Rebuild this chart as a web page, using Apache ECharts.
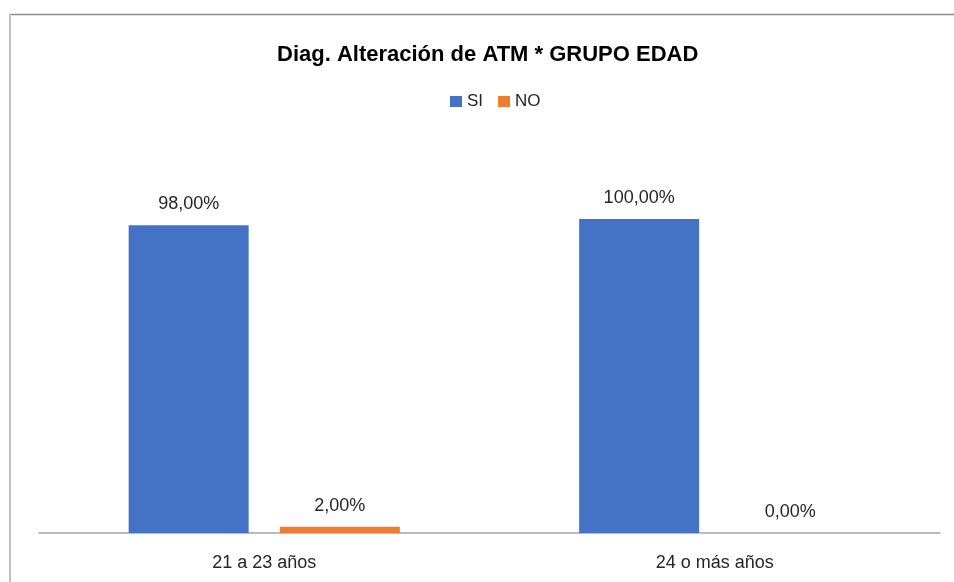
<!DOCTYPE html>
<html>
<head>
<meta charset="utf-8">
<script src="https://cdn.jsdelivr.net/npm/echarts@6/dist/echarts.min.js"></script>
<style>
html,body{margin:0;padding:0;background:#fff;}
#chart{width:954px;height:582px;}
</style>
</head>
<body>
<div id="chart"></div>
<script>
const categories = ['21 a 23 años', '24 o más años'];
const siValues = [98, 100];
const noValues = [2, 0];
const seriesNames = ['SI', 'NO'];
const titleText = 'Diag. Alteración de ATM * GRUPO EDAD';

const chart = echarts.init(document.getElementById('chart'));
const fmt = p => p.value.toFixed(2).replace('.', ',') + '%';
const labelStyle = {
  show: true, position: 'top', distance: 12, formatter: fmt,
  fontFamily: 'Liberation Sans', fontSize: 18, color: '#262626'
};
chart.setOption({
  animation: false,
  backgroundColor: '#fff',
  title: {
    text: titleText, left: 272, top: 39,
    textStyle: { fontFamily: 'Liberation Sans', fontWeight: 'bold', fontSize: 22, color: '#000' }
  },
  legend: {
    data: seriesNames, left: 445, top: 88,
    itemWidth: 12, itemHeight: 11, itemGap: 15,
    icon: 'rect',
    textStyle: { fontFamily: 'Liberation Sans', fontSize: 17, color: '#262626' }
  },
  grid: { left: 39, right: 14, top: 219, bottom: 49, containLabel: false },
  xAxis: {
    type: 'category', data: categories,
    axisLine: { lineStyle: { color: '#a6a6a6', width: 1.5 } },
    axisTick: { show: false },
    axisLabel: { fontFamily: 'Liberation Sans', fontSize: 18, color: '#262626', margin: 21 }
  },
  yAxis: { type: 'value', min: 0, max: 100, show: false, splitLine: { show: false } },
  series: [
    { name: 'SI', type: 'bar', data: siValues, barWidth: 120, barGap: '26%',
      itemStyle: { color: '#4472C4' }, label: labelStyle },
    { name: 'NO', type: 'bar', data: noValues, barWidth: 120,
      itemStyle: { color: '#ED7D31' }, label: labelStyle }
  ],
  graphic: [
    { type: 'line', shape: { x1: 10, y1: 14.5, x2: 954, y2: 14.5 }, style: { stroke: '#8c8c8c', lineWidth: 1.5 } },
    { type: 'line', shape: { x1: 10, y1: 14, x2: 10, y2: 582 }, style: { stroke: '#bfbfbf', lineWidth: 2 } }
  ]
});
</script>
</body>
</html>
